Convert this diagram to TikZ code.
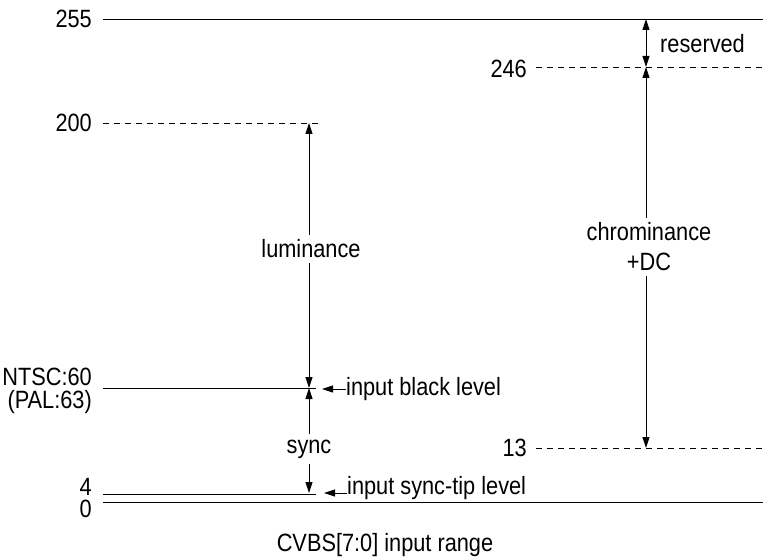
\documentclass[tikz,border=0pt]{standalone}
\usepackage{fontspec}
\setmainfont[FakeStretch=0.87]{Liberation Sans}
\usetikzlibrary{arrows.meta}

\tikzset{
    lvl/.style={line width=0.9pt},
    dashlvl/.style={line width=0.9pt, dash pattern=on 6pt off 5pt},
    tip/.style={line width=0.9pt, -{Triangle[length=11pt,width=7pt]}},
    lbl/.style={font=\fontsize{25}{30}\selectfont, inner sep=0pt},
    digit/.style={lbl, text height=17pt, text depth=0pt},
    gaplbl/.style={font=\fontsize{25}{30}\selectfont, inner xsep=2pt, inner ysep=5pt, align=center}
}

\begin{document}
\begin{tikzpicture}[x=1pt, y=-1pt]
    \useasboundingbox (0,0) rectangle (763,559);

    % level lines
    \draw[lvl] (103,19) coordinate (a255) -- (763,19);
    \draw[dashlvl] (103,123) coordinate (a200) -- (322,123);
    \draw[lvl] (103,388) coordinate (a60) -- (316,388);
    \draw[lvl] (103,494) coordinate (a4) -- (316,494);
    \draw[lvl] (103,502) coordinate (a0) -- (763,502);
    \draw[dashlvl] (536,67) coordinate (b246) -- (763,67);
    \draw[dashlvl] (536,448) coordinate (b13) -- (763,448);

    % level values
    \node[digit, anchor=east] (v255) at (92,19) {255};
    \node[digit, anchor=east] (v200) at (92,123) {200};
    \node[digit, anchor=south east] (v60) at (92,386) {NTSC:60};
    \node[lbl, text height=17pt, text depth=4pt, anchor=north east] (v63) at (92,391) {(PAL:63)};
    \node[digit, anchor=east] (v4) at (92,487) {4};
    \node[digit, anchor=east] (v0) at (92,509) {0};
    \node[digit, anchor=east] (v246) at (527,69) {246};
    \node[digit, anchor=east] (v13) at (527,448) {13};

    % luminance and sync
    \coordinate (l200) at (309,123);
    \coordinate (l60) at (309,388);
    \coordinate (l4) at (309,493);
    \node[gaplbl] (lumtxt) at (311,249) {luminance};
    \draw[tip] (l200 |- lumtxt.north) -- (l200);
    \draw[tip] (l200 |- lumtxt.south) -- (l60);
    \node[gaplbl] (synctxt) at (309,449) {sync};
    \draw[tip] (l60 |- synctxt.north) -- (l60);
    \draw[tip] (l60 |- synctxt.south) -- (l4);

    % chrominance and reserved
    \coordinate (c255) at (646,19);
    \coordinate (c246) at (646,67);
    \coordinate (c13) at (646,448);
    \node[gaplbl] (chromtxt) at (649,247) {chrominance\\+DC};
    \draw[tip] (c246 |- chromtxt.north) -- (c246);
    \draw[tip] (c246 |- chromtxt.south) -- (c13);
    \draw[tip] (c246 |- 0,43) -- (c255);
    \draw[tip] (c255 |- 0,43) -- (c246);
    \node[lbl, anchor=west] (restxt) at (660,44) {reserved};

    % pointers
    \coordinate (blackpt) at (322,389);
    \coordinate (syncpt) at (324,493);
    \node[lbl, anchor=west] (blacktxt) at (346,389) {input black level};
    \draw[tip] (blacktxt.west) -- (blackpt);
    \node[lbl, anchor=west] (tiptxt) at (347,488) {input sync-tip level};
    \draw[tip] (tiptxt.west |- syncpt) -- (syncpt);

    \node[lbl] (title) at (385,545) {CVBS[7:0] input range};
\end{tikzpicture}
\end{document}
